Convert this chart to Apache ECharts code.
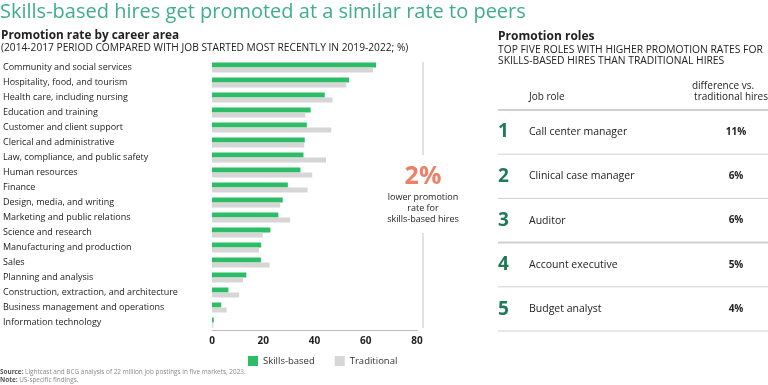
<!DOCTYPE html>
<html><head><meta charset="utf-8">
<script src="https://cdn.jsdelivr.net/npm/echarts@6/dist/echarts.min.js"></script>
<style>html,body{margin:0;padding:0;background:#fff}#c{width:768px;height:385px}</style>
</head><body><div id="c"></div>
<script>
const categories = ["Community and social services","Hospitality, food, and tourism","Health care, including nursing","Education and training","Customer and client support","Clerical and administrative","Law, compliance, and public safety","Human resources","Finance","Design, media, and writing","Marketing and public relations","Science and research","Manufacturing and production","Sales","Planning and analysis","Construction, extraction, and architecture","Business management and operations","Information technology"];
const skillsBased = [64,53.5,44,38.5,37,36.2,35.7,34.5,29.6,27.6,25.9,22.8,19.2,19.1,13.4,6.4,3.6,0.7];
const traditional = [62.8,52.4,47,36.4,46.5,36,44.5,39.1,37.3,26.6,30.5,19.8,18.3,22.5,12.1,10.6,5.7,0.5];
const xTicks = [0,20,40,60,80];
const roles = ["Call center manager","Clinical case manager","Auditor","Account executive","Budget analyst"];
const roleDiffs = ["11%","6%","6%","5%","4%"];

const FONT = "Open Sans";
const chart = echarts.init(document.getElementById('c'));
const g = [];
function txt(x,y,text,style){g.push({type:'text',x:x,y:y,style:Object.assign({text:text,fontFamily:FONT,fill:'#222',fontSize:10,textVerticalAlign:'middle'},style)});}
function line(x1,y1,x2,y2,color,w){g.push({type:'line',shape:{x1:x1,y1:y1,x2:x2,y2:y2},style:{stroke:color,lineWidth:w}});}

txt(0,12,"Skills-based hires get promoted at a similar rate to peers",{fontSize:20,fill:'#3fae88'});
txt(1,36,"Promotion rate by career area",{fontSize:11.8,fontWeight:'bold'});
txt(1,48,"(2014-2017 PERIOD COMPARED WITH JOB STARTED MOST RECENTLY IN 2019-2022; %)",{fontSize:10.2});
line(423,62,423,155,'#d9d9d9',1.5);
line(423,233,423,328,'#d9d9d9',1.5);
txt(423,177,"2%",{fontSize:25,fontWeight:'bold',fill:'#ee8068',textAlign:'center'});
txt(423,197,"lower promotion",{fontSize:9,textAlign:'center'});
txt(423,208,"rate for",{fontSize:9,textAlign:'center'});
txt(423,219,"skills-based hires",{fontSize:9,textAlign:'center'});

txt(498,37,"Promotion roles",{fontSize:12,fontWeight:'bold'});
txt(498,50,"TOP FIVE ROLES WITH HIGHER PROMOTION RATES FOR",{fontSize:10.3});
txt(498,61,"SKILLS-BASED HIRES THAN TRADITIONAL HIRES",{fontSize:10.3});
txt(529,97,"Job role",{fontSize:10});
txt(723,86,"difference vs.",{fontSize:10,textAlign:'center'});
txt(768,97,"traditional hires",{fontSize:10,textAlign:'right'});
line(498,110,768,110,'#d0d0d0',2);
roles.forEach((r,i)=>{
  const y = 132 + i*44.3;
  txt(498,y,String(i+1),{fontSize:19,fontWeight:'bold',fill:'#1f7a58'});
  txt(529,y,r,{fontSize:10.5});
  txt(736,y,roleDiffs[i],{fontSize:10,fontWeight:'bold',textAlign:'center'});
  line(498,110+(i+1)*44.2,768,110+(i+1)*44.2,'#d0d0d0',i===2?2:1);
});

g.push({type:'text',x:0,y:372,style:{text:"{b|Source:} Lightcast and BCG analysis of 22 million job postings in five markets, 2023.",rich:{b:{fontWeight:'bold',fill:'#555',fontSize:6.4,fontFamily:FONT}},fontFamily:FONT,fontSize:6.4,fill:'#888',textVerticalAlign:'middle'}});
g.push({type:'text',x:0,y:380.5,style:{text:"{b|Note:} US-specific findings.",rich:{b:{fontWeight:'bold',fill:'#555',fontSize:6.4,fontFamily:FONT}},fontFamily:FONT,fontSize:6.4,fill:'#888',textVerticalAlign:'middle'}});

chart.setOption({
  animation:false,
  textStyle:{fontFamily:FONT},
  grid:{left:210,right:351,top:60,height:270,containLabel:false},
  legend:{left:243,top:351,itemWidth:10,itemHeight:10,itemGap:20,icon:'rect',
    textStyle:{fontSize:9.5,color:'#333',fontFamily:FONT},data:['Skills-based','Traditional']},
  xAxis:{type:'value',min:0,max:80,interval:20,
    axisLine:{show:true,lineStyle:{color:'#bbb'}},axisTick:{show:false},splitLine:{show:false},
    axisLabel:{fontSize:10,fontWeight:'bold',color:'#222',margin:6,
      formatter:v=>xTicks.includes(v)?String(v):''}},
  yAxis:{type:'category',data:categories,inverse:true,
    axisLine:{show:false},axisTick:{show:false},
    axisLabel:{align:'left',margin:209,fontSize:9,color:'#222'}},
  series:[
    {name:'Skills-based',type:'bar',data:skillsBased,barWidth:5,barGap:'0%',itemStyle:{color:'#2dbd66'}},
    {name:'Traditional',type:'bar',data:traditional,barWidth:5,barGap:'0%',itemStyle:{color:'#d6d6d6'}}
  ],
  graphic:g
});
</script></body></html>
